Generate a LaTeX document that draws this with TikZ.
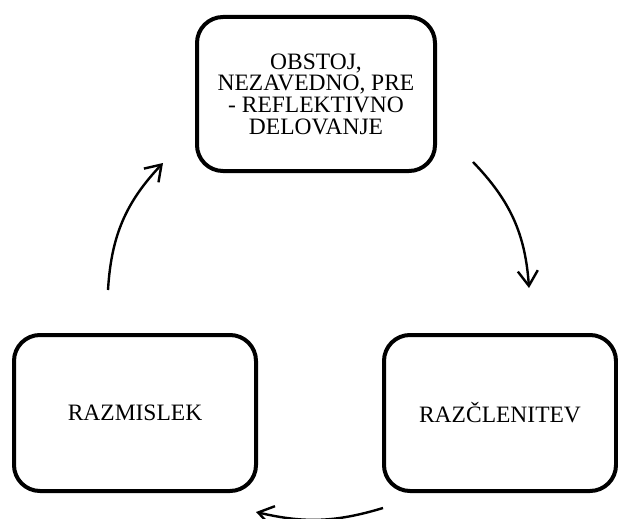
\documentclass[tikz,border=0pt]{standalone}
\usepackage{fontspec}
\setmainfont{Liberation Serif}
\usetikzlibrary{arrows.meta}
\tikzset{
  stage/.style={draw,line width=4pt,rounded corners=26pt,align=center,inner sep=0pt,
    font=\fontsize{23.5}{21.7}\selectfont},
  cyc/.style={-{Straight Barb[length=15pt,width=20pt,line width=2.4pt]},line width=2.4pt}
}
\begin{document}
\begin{tikzpicture}[x=1pt,y=1pt]
\useasboundingbox (0,0) rectangle (618,-519);
\node[stage,minimum width=238pt,minimum height=154pt] (obstoj) at (316,-94) {OBSTOJ,\\NEZAVEDNO, PRE\\- REFLEKTIVNO\\DELOVANJE};
\node[stage,minimum width=242pt,minimum height=156pt] (razmislek) at (135,-413) {RAZMISLEK};
\node[stage,minimum width=232pt,minimum height=156pt] (razclenitev) at (500,-413) {RAZČLENITEV};

\coordinate (a1) at (473,-162);
\coordinate (b1) at (529,-288);
\coordinate (a2) at (383,-508);
\coordinate (b2) at (256,-512);
\coordinate (a3) at (108,-290);
\coordinate (b3) at (163,-163);

\draw[cyc] (a1) to[bend left=20] (b1);
\draw[cyc] (a2) to[bend left=15] (b2);
\draw[cyc] (a3) to[bend left=20] (b3);
\end{tikzpicture}
\end{document}
